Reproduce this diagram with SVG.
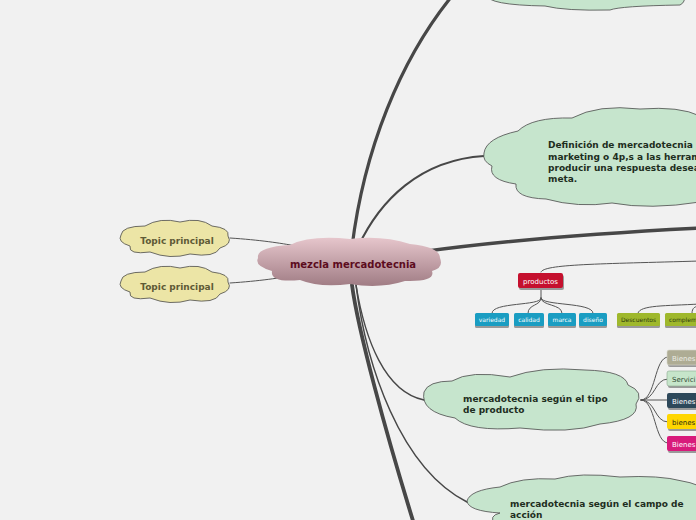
<svg xmlns="http://www.w3.org/2000/svg" width="696" height="520" viewBox="0 0 696 520">
<defs>
<linearGradient id="pink" x1="0" y1="0" x2="0" y2="1">
<stop offset="0" stop-color="#e6c6cc"/>
<stop offset="1" stop-color="#a07c84"/>
</linearGradient>
<style>
.main{fill:none;stroke:#474747;stroke-linecap:round}
.thin{fill:none;stroke:#555;stroke-width:1;stroke-linecap:round}
.cloudg{fill:#c6e5cd;stroke:#4a4a4a;stroke-width:0.8}
.cloudy{fill:#ece5a6;stroke:#4a4a4a;stroke-width:0.8}
.t{font-family:"DejaVu Sans",Verdana,sans-serif}
.b{font-weight:bold}
.dg{fill:#1e2e1e;font-size:9px}
.box{stroke:none}
.shadow{fill:#9a9a9a}
</style>
</defs>
<rect width="696" height="520" fill="#f1f1f1"/>
<g id="connectors">
<path class="main" stroke-width="3.2" d="M352,247 C364,150 400,60 452,-4"/>
<path class="main" stroke-width="2" d="M358,247 C380,200 420,160 484,156"/>
<path class="main" stroke-width="3.6" d="M420,252 C500,241 600,233 700,228"/>
<path class="thin" stroke-width="1.2" d="M541,272 C543,264 600,264 700,261"/>
<path class="thin" d="M638,313 C640,305 665,306 700,304"/>
<path class="thin" d="M692,313 C692,308 695,306 700,306"/>
<path class="thin" d="M230,238 C260,240 280,243 296,246"/>
<path class="thin" d="M230,283 C260,281 280,278 296,275"/>
<path class="thin" stroke-width="1.2" d="M541,288 L541,298 C541,306 492,302 492,313"/>
<path class="thin" stroke-width="1.2" d="M541,298 C541,306 528,304 528,313"/>
<path class="thin" stroke-width="1.2" d="M541,298 C541,306 562,304 562,313"/>
<path class="thin" stroke-width="1.2" d="M541,298 C541,306 593,302 593,313"/>
<path class="main" stroke-width="1.4" d="M356,285 C365,340 385,392 424,400"/>
<path class="main" stroke-width="3.8" d="M352,285 C358,330 385,430 414,524"/>
<path class="main" stroke-width="1.5" d="M356,285 C366,365 400,468 467,502"/>
<path class="thin" d="M641,400 C656,400 654,357 668,357"/>
<path class="thin" d="M641,400 C656,400 654,379 668,379"/>
<path class="thin" d="M641,400 L668,400"/>
<path class="thin" d="M641,400 C656,400 654,422 668,422"/>
<path class="thin" d="M641,400 C656,400 654,443 668,443"/>
</g>
<g id="top-cloud">
<path class="cloudg" d="M487,-5 Q487,5 545,6 Q565,11 610,10 Q620,6 680,5 Q686,2 684,-5 Z"/>
</g>
<g id="definicion">
<path class="cloudg" d="M484,153 Q486,138 518,131 Q532,117 572,118 Q598,104 640,109 Q680,106 700,116 L700,202 Q650,210 612,203 Q578,208 546,199 Q514,198 516,184 Q488,180 492,166 Q482,161 484,153 Z"/>
<text class="t b dg"><tspan x="548" y="148">Definición de mercadotecnia :</tspan><tspan x="548" y="160">marketing o 4p,s a las herram</tspan><tspan x="548" y="171">producir una respuesta desea</tspan><tspan x="548" y="182">meta.</tspan></text>
</g>
<g id="center">
<path fill="url(#pink)" d="M258,258 Q256,247 290,245 Q310,235 350,239 Q382,235 410,244 Q440,247 440,258 Q444,268 432,271 Q436,282 405,281 Q380,289 350,284 Q320,288 300,280 Q270,283 272,271 Q254,266 258,258 Z"/>
<text class="t b" x="353" y="268" font-size="10" fill="#5c0c1e" text-anchor="middle">mezcla mercadotecnia</text>
</g>
<g id="topic1">
<path class="cloudy" d="M121,235 Q122,226 145,226 Q160,217 180,222 Q200,217 212,226 Q230,228 228,236 Q233,244 220,248 Q215,258 190,254 Q170,260 150,252 Q128,255 130,246 Q117,242 121,235 Z"/>
<text class="t b" x="177" y="244" font-size="9" fill="#5e5a36" text-anchor="middle">Topic principal</text>
</g>
<g id="topic2">
<path class="cloudy" d="M121,281 Q122,272 145,272 Q160,263 180,268 Q200,263 212,272 Q230,274 228,282 Q233,290 220,294 Q215,304 190,300 Q170,306 150,298 Q128,301 130,292 Q117,288 121,281 Z"/>
<text class="t b" x="177" y="290" font-size="9" fill="#5e5a36" text-anchor="middle">Topic principal</text>
</g>
<g id="productos">
<rect class="shadow" x="519" y="275" width="45" height="15" rx="2"/>
<rect x="518" y="273" width="45" height="15" rx="2" fill="#c5102e"/>
<text class="t" x="540.5" y="283.5" font-size="7" fill="#fff" text-anchor="middle">productos</text>
</g>
<g id="variedad">
<rect class="shadow" x="475" y="315" width="34" height="13" rx="1.5"/>
<rect x="475" y="313" width="34" height="13" rx="1.5" fill="#1a9dc2"/>
<text class="t" x="492" y="322" font-size="6" fill="#fff" text-anchor="middle">variedad</text>
</g>
<g id="calidad">
<rect class="shadow" x="514" y="315" width="30" height="13" rx="1.5"/>
<rect x="514" y="313" width="30" height="13" rx="1.5" fill="#1a9dc2"/>
<text class="t" x="529" y="322" font-size="6" fill="#fff" text-anchor="middle">calidad</text>
</g>
<g id="marca">
<rect class="shadow" x="548" y="315" width="28" height="13" rx="1.5"/>
<rect x="548" y="313" width="28" height="13" rx="1.5" fill="#1a9dc2"/>
<text class="t" x="562" y="322" font-size="6" fill="#fff" text-anchor="middle">marca</text>
</g>
<g id="diseno">
<rect class="shadow" x="579" y="315" width="28" height="13" rx="1.5"/>
<rect x="579" y="313" width="28" height="13" rx="1.5" fill="#1a9dc2"/>
<text class="t" x="593" y="322" font-size="6" fill="#fff" text-anchor="middle">diseño</text>
</g>
<g id="descuentos">
<rect class="shadow" x="617" y="315" width="43" height="13" rx="1.5"/>
<rect x="617" y="313" width="43" height="13" rx="1.5" fill="#9fb82c"/>
<text class="t" x="638.5" y="322" font-size="6" fill="#2e3a0c" text-anchor="middle">Descuentos</text>
</g>
<g id="complem">
<rect class="shadow" x="665" y="315" width="40" height="13" rx="1.5"/>
<rect x="665" y="313" width="40" height="13" rx="1.5" fill="#9fb82c"/>
<text class="t" x="669" y="322" font-size="6" fill="#2e3a0c">complem</text>
</g>
<g id="tipo-producto">
<path class="cloudg" d="M424,392 Q428,381 452,381 Q470,370 510,377 Q540,366 585,370 Q625,371 628,385 Q645,392 636,404 Q640,420 600,424 Q570,434 520,428 Q470,432 455,418 Q420,412 424,392 Z"/>
<text class="t b dg"><tspan x="463" y="402">mercadotecnia según el tipo</tspan><tspan x="463" y="413">de producto</tspan></text>
</g>
<g id="bienes1">
<rect class="shadow" x="668" y="352" width="40" height="15" rx="2"/>
<rect x="667" y="350" width="40" height="15" rx="2" fill="#aeac94" stroke="#d8d8cc" stroke-width="0.6"/>
<text class="t" x="672" y="360.5" font-size="7" fill="#ecece4">Bienes</text>
</g>
<g id="servicios">
<rect class="shadow" x="668" y="373" width="40" height="15" rx="2"/>
<rect x="667" y="371" width="40" height="15" rx="2" fill="#c6e5ca" stroke="#8aa88e" stroke-width="0.6"/>
<text class="t" x="672" y="381.5" font-size="7" fill="#2f4a32">Servici</text>
</g>
<g id="bienes2">
<rect class="shadow" x="668" y="395" width="40" height="15" rx="2"/>
<rect x="667" y="393" width="40" height="15" rx="2" fill="#2d485a"/>
<text class="t" x="672" y="403.5" font-size="7" fill="#fff">Bienes</text>
</g>
<g id="bienes3">
<rect class="shadow" x="668" y="416" width="40" height="15" rx="2"/>
<rect x="667" y="414" width="40" height="15" rx="2" fill="#ffd600"/>
<text class="t" x="672" y="424.5" font-size="7" fill="#2a2a10">bienes</text>
</g>
<g id="bienes4">
<rect class="shadow" x="668" y="438" width="40" height="15" rx="2"/>
<rect x="667" y="436" width="40" height="15" rx="2" fill="#d81b7b"/>
<text class="t" x="672" y="446.5" font-size="7" fill="#fff">Bienes</text>
</g>
<g id="campo-accion">
<path class="cloudg" d="M467,501 Q470,490 500,487 Q520,477 555,479 Q580,472 620,477 Q660,475 682,481 Q700,484 702,490 L702,524 L495,524 Q488,516 500,513 Q468,511 467,501 Z"/>
<text class="t b dg"><tspan x="510" y="507">mercadotecnia según el campo de</tspan><tspan x="510" y="518">acción</tspan></text>
</g>
</svg>
